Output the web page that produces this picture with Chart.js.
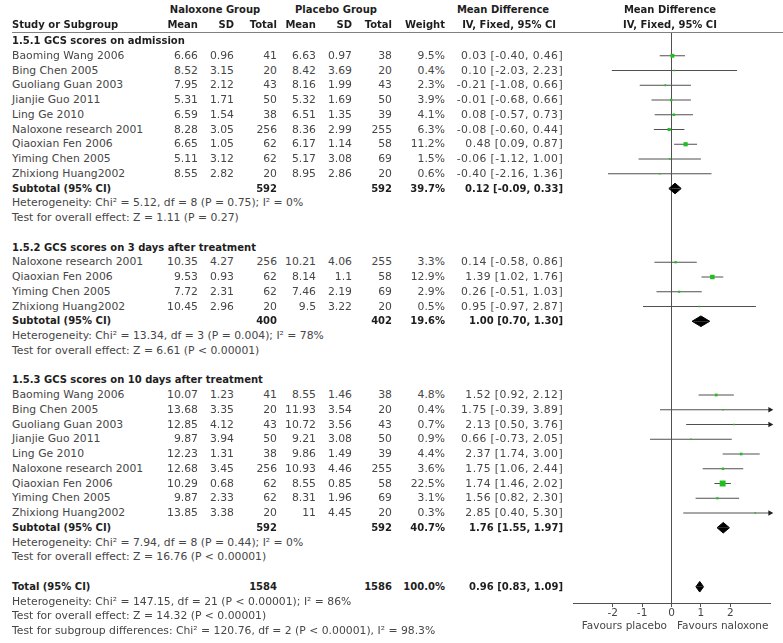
<!DOCTYPE html>
<html><head><meta charset="utf-8">
<script src="https://cdn.jsdelivr.net/npm/chart.js@4.4.1/dist/chart.umd.min.js"></script>
<style>
html,body{margin:0;padding:0;background:#fff;}
#wrap{position:relative;width:783px;height:643px;overflow:hidden;font-family:"DejaVu Sans",sans-serif;}
.t{position:absolute;white-space:nowrap;font-size:10.8px;line-height:14px;height:14px;color:#464646;}
.b{font-weight:bold;font-size:10px;color:#1e1e1e;}
.ci{letter-spacing:0.4px;}
.fav{font-size:10.5px;}
#plot{position:absolute;left:560px;top:0;}
#hline{position:absolute;left:12px;top:32px;width:771px;height:1px;background:#808080;}
</style></head><body>
<div id="wrap"><canvas id="plot" width="223" height="643"></canvas><div id="hline"></div></div>
<script>
// ---------------- DATA ----------------
const groupTitles = ["1.5.1 GCS scores on admission", "1.5.2 GCS scores on 3 days after treatment", "1.5.3 GCS scores on 10 days after treatment"];
const groupSizes = [9, 4, 9];
const studyNames = [
 "Baoming Wang 2006","Bing Chen 2005","Guoliang Guan 2003","Jianjie Guo 2011","Ling Ge 2010","Naloxone research 2001","Qiaoxian Fen 2006","Yiming Chen 2005","Zhixiong Huang2002",
 "Naloxone research 2001","Qiaoxian Fen 2006","Yiming Chen 2005","Zhixiong Huang2002",
 "Baoming Wang 2006","Bing Chen 2005","Guoliang Guan 2003","Jianjie Guo 2011","Ling Ge 2010","Naloxone research 2001","Qiaoxian Fen 2006","Yiming Chen 2005","Zhixiong Huang2002"];
const nalMean  = [6.66,8.52,7.95,5.31,6.59,8.28,6.65,5.11,8.55, 10.35,9.53,7.72,10.45, 10.07,13.68,12.85,9.87,12.23,12.68,10.29,9.87,13.85];
const nalSD    = [0.96,3.15,2.12,1.71,1.54,3.05,1.05,3.12,2.82, 4.27,0.93,2.31,2.96, 1.23,3.35,4.12,3.94,1.31,3.45,0.68,2.33,3.38];
const nalTotal = [41,20,43,50,38,256,62,62,20, 256,62,62,20, 41,20,43,50,38,256,62,62,20];
const plaMean  = [6.63,8.42,8.16,5.32,6.51,8.36,6.17,5.17,8.95, 10.21,8.14,7.46,9.5, 8.55,11.93,10.72,9.21,9.86,10.93,8.55,8.31,11];
const plaSD    = [0.97,3.69,1.99,1.69,1.35,2.99,1.14,3.08,2.86, 4.06,1.1,2.19,3.22, 1.46,3.54,3.56,3.08,1.49,4.46,0.85,1.96,4.45];
const plaTotal = [38,20,43,50,39,255,58,69,20, 255,58,69,20, 38,20,43,50,39,255,58,69,20];
const weights  = [9.5,0.4,2.3,3.9,4.1,6.3,11.2,1.5,0.6, 3.3,12.9,2.9,0.5, 4.8,0.4,0.7,0.9,4.4,3.6,22.5,3.1,0.3];
const meanDiff = [0.03,0.10,-0.21,-0.01,0.08,-0.08,0.48,-0.06,-0.40, 0.14,1.39,0.26,0.95, 1.52,1.75,2.13,0.66,2.37,1.75,1.74,1.56,2.85];
const ciLow    = [-0.40,-2.03,-1.08,-0.68,-0.57,-0.60,0.09,-1.12,-2.16, -0.58,1.02,-0.51,-0.97, 0.92,-0.39,0.50,-0.73,1.74,1.06,1.46,0.82,0.40];
const ciHigh   = [0.46,2.23,0.66,0.66,0.73,0.44,0.87,1.00,1.36, 0.86,1.76,1.03,2.87, 2.12,3.89,3.76,2.05,3.00,2.44,2.02,2.30,5.30];

const subNal    = [592, 400, 592];
const subPla    = [592, 402, 592];
const subWeight = [39.7, 19.6, 40.7];
const subMD     = [0.12, 1.00, 1.76];
const subLow    = [-0.09, 0.70, 1.55];
const subHigh   = [0.33, 1.30, 1.97];
const hetTexts = ["Heterogeneity: Chi\u00b2 = 5.12, df = 8 (P = 0.75); I\u00b2 = 0%",
                  "Heterogeneity: Chi\u00b2 = 13.34, df = 3 (P = 0.004); I\u00b2 = 78%",
                  "Heterogeneity: Chi\u00b2 = 7.94, df = 8 (P = 0.44); I\u00b2 = 0%"];
const effectTexts = ["Test for overall effect: Z = 1.11 (P = 0.27)",
                     "Test for overall effect: Z = 6.61 (P < 0.00001)",
                     "Test for overall effect: Z = 16.76 (P < 0.00001)"];
const totalNal = 1584, totalPla = 1586, totalWeight = 100.0, totalMD = 0.96, totalLow = 0.83, totalHigh = 1.09;
const totalNotes = ["Heterogeneity: Chi\u00b2 = 147.15, df = 21 (P < 0.00001); I\u00b2 = 86%",
                    "Test for overall effect: Z = 14.32 (P < 0.00001)",
                    "Test for subgroup differences: Chi\u00b2 = 120.76, df = 2 (P < 0.00001), I\u00b2 = 98.3%"];
const xTicks = [-2, -1, 0, 1, 2];
const xMin = -3.35, xMax = 3.35;
const favourLabels = ["Favours placebo", "Favours naloxone"];

// ---------------- LAYOUT ----------------
const ROW0 = 41, STEP = 14.75;
const rowY = r => ROW0 + STEP * r;
const COL = {name: 12, nalMean: 198, nalSD: 234, nalN: 277, plaMean: 316, plaSD: 352, plaN: 392, weight: 445, md: 563};
const wrap = document.getElementById('wrap');
function txt(s, x, y, align, bold, extra) {
  const d = document.createElement('div');
  d.className = 't' + (bold ? ' b' : '') + (extra ? ' ' + extra : '');
  d.textContent = s;
  d.style.top = (y - 7) + 'px';
  d.style.left = x + 'px';
  if (align === 'right') d.style.transform = 'translateX(-100%)';
  else if (align === 'center') d.style.transform = 'translateX(-50%)';
  wrap.appendChild(d);
}
const f2 = v => v.toFixed(2);
const ciStr = (m, l, h) => f2(m) + ' [' + f2(l) + ', ' + f2(h) + ']';

// headers
txt("Naloxone Group", 215, 10, 'center', true);
txt("Placebo Group", 336, 10, 'center', true);
txt("Mean Difference", 503, 10, 'center', true);
txt("Mean Difference", 670, 10, 'center', true);
txt("Study or Subgroup", COL.name, 25, 'left', true);
txt("Mean", COL.nalMean, 25, 'right', true);
txt("SD", COL.nalSD, 25, 'right', true);
txt("Total", COL.nalN, 25, 'right', true);
txt("Mean", COL.plaMean, 25, 'right', true);
txt("SD", COL.plaSD, 25, 'right', true);
txt("Total", COL.plaN, 25, 'right', true);
txt("Weight", COL.weight, 25, 'right', true);
txt("IV, Fixed, 95% CI", 556, 25, 'right', true);
txt("IV, Fixed, 95% CI", 670, 25, 'center', true);

const studyRows = [], subRows = [];
let r = 0, idx = 0;
groupTitles.forEach((title, g) => {
  txt(title, COL.name, rowY(r), 'left', true);
  for (let k = 0; k < groupSizes[g]; k++, idx++) {
    const rr = r + 1 + k, y = rowY(rr);
    studyRows.push(rr);
    txt(studyNames[idx], COL.name, y, 'left');
    txt(String(nalMean[idx]), COL.nalMean, y, 'right');
    txt(String(nalSD[idx]), COL.nalSD, y, 'right');
    txt(String(nalTotal[idx]), COL.nalN, y, 'right');
    txt(String(plaMean[idx]), COL.plaMean, y, 'right');
    txt(String(plaSD[idx]), COL.plaSD, y, 'right');
    txt(String(plaTotal[idx]), COL.plaN, y, 'right');
    txt(weights[idx].toFixed(1) + '%', COL.weight, y, 'right');
    txt(ciStr(meanDiff[idx], ciLow[idx], ciHigh[idx]), COL.md, y, 'right', false, 'ci');
  }
  const sr = r + groupSizes[g] + 1, sy = rowY(sr);
  subRows.push(sr);
  txt("Subtotal (95% CI)", COL.name, sy, 'left', true);
  txt(String(subNal[g]), COL.nalN, sy, 'right', true);
  txt(String(subPla[g]), COL.plaN, sy, 'right', true);
  txt(subWeight[g].toFixed(1) + '%', COL.weight, sy, 'right', true);
  txt(ciStr(subMD[g], subLow[g], subHigh[g]), COL.md, sy, 'right', true);
  txt(hetTexts[g], COL.name, rowY(sr + 1), 'left');
  txt(effectTexts[g], COL.name, rowY(sr + 2), 'left');
  r = sr + 4;
});
const totalRow = r, ty = rowY(totalRow);
txt("Total (95% CI)", COL.name, ty, 'left', true);
txt(String(totalNal), COL.nalN, ty, 'right', true);
txt(String(totalPla), COL.plaN, ty, 'right', true);
txt(totalWeight.toFixed(1) + '%', COL.weight, ty, 'right', true);
txt(ciStr(totalMD, totalLow, totalHigh), COL.md, ty, 'right', true);
totalNotes.forEach((s, k) => txt(s, COL.name, rowY(totalRow + 1 + k), 'left'));
txt(favourLabels[0], 667, 625, 'right', false, 'fav');
txt(favourLabels[1], 677, 625, 'left', false, 'fav');

// ---------------- CHART ----------------
const PLOT_TOP = 33, PLOT_BOTTOM = 603;
const yMin = (PLOT_TOP - ROW0) / STEP, yMax = (PLOT_BOTTOM - ROW0) / STEP;
const datasets = [];
datasets.push({
  label: 'studies',
  data: studyRows.map((rr, i) => ({x: meanDiff[i], y: rr})),
  showLine: false,
  pointStyle: 'rect',
  pointRadius: weights.map(w => Math.max(1.6, 1.25 * Math.sqrt(w)) / Math.SQRT2),
  pointBackgroundColor: '#1fbf1f',
  pointBorderWidth: 0,
  clip: false
});
studyRows.forEach((rr, i) => {
  const clipped = ciHigh[i] > xMax;
  datasets.push({
    label: 'ci' + i,
    data: [{x: Math.max(ciLow[i], xMin), y: rr}, {x: Math.min(ciHigh[i], xMax), y: rr}],
    showLine: true,
    borderColor: '#505050',
    borderWidth: 1,
    pointStyle: 'triangle',
    rotation: 90,
    pointRadius: [0, clipped ? 3.3 : 0],
    pointBackgroundColor: '#222',
    pointBorderWidth: 0,
    clip: false
  });
});
const H = 0.36;
function diamond(m, l, h, rr) {
  [-H, H].forEach(dh => datasets.push({
    label: 'dia',
    data: [{x: l, y: rr}, {x: m, y: rr + dh}, {x: h, y: rr}],
    showLine: true,
    borderColor: '#000',
    borderWidth: 1,
    backgroundColor: '#000',
    fill: {value: rr},
    pointRadius: 0,
    clip: false
  }));
}
subRows.forEach((rr, g) => diamond(subMD[g], subLow[g], subHigh[g], rr));
diamond(totalMD, totalLow, totalHigh, totalRow);

new Chart(document.getElementById('plot'), {
  type: 'line',
  data: {datasets},
  options: {
    responsive: false, animation: false, devicePixelRatio: 1, events: [],
    layout: {padding: {left: 13, right: 13, top: PLOT_TOP, bottom: 0}},
    elements: {line: {tension: 0}, point: {radius: 0, hoverRadius: 0}},
    plugins: {legend: {display: false}, tooltip: {enabled: false}, title: {display: false}},
    scales: {
      x: {
        type: 'linear', min: xMin, max: xMax,
        afterBuildTicks: s => { s.ticks = xTicks.map(v => ({value: v})); },
        afterFit: s => { s.height = 643 - PLOT_BOTTOM; },
        ticks: {font: {family: 'DejaVu Sans', size: 10.5}, color: '#444', padding: 0, maxRotation: 0, autoSkip: false, callback: v => String(v)},
        grid: {color: c => (c.tick && c.tick.value === 0) ? '#505050' : 'rgba(0,0,0,0)', tickColor: '#505050', tickLength: 4, lineWidth: 1},
        border: {display: true, color: '#505050', width: 1}
      },
      y: {type: 'linear', display: false, reverse: true, min: yMin, max: yMax}
    }
  }
});
</script>
</body></html>
